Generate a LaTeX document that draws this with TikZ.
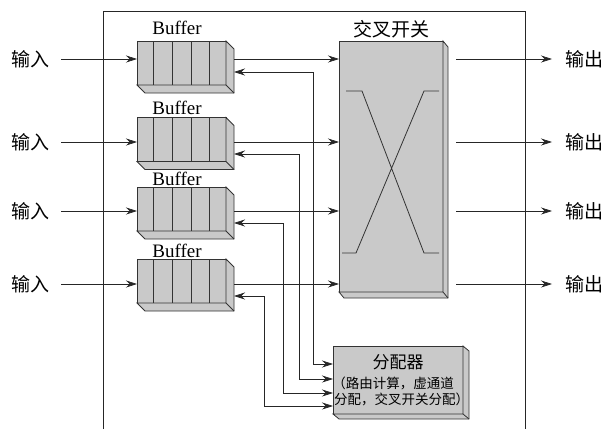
\documentclass[tikz,border=0pt]{standalone}
\usepackage{fontspec}
\setmainfont{Liberation Serif}
\newfontfamily\cjk{Noto Sans CJK SC}
\usetikzlibrary{arrows.meta, positioning}

\newcommand{\boxdepth}[3]{
	\draw[boxface]
	(#1.north east) -- ++(#2,#3) -- ([shift={(#2,#3)}]#1.south east)
	-- ([shift={(#2,#3)}]#1.south west) -- (#1.south west) -- (#1.south east) -- cycle;
	\draw[boxface] (#1.south east) -- ++(#2,#3);
}

\tikzset{
	boxface/.style={draw=black!80, fill=black!21, line width=0.8pt},
	buffer/.style={boxface, anchor=north west, minimum width=89pt, minimum height=44pt,
		inner sep=0pt, outer sep=0pt,
		path picture={\foreach \x in {16.5,35,54,72.5}
			\draw[black!80, line width=0.8pt]
			([xshift=\x pt]path picture bounding box.north west)
			-- ([xshift=\x pt]path picture bounding box.south west);}},
	buftext/.style={inner sep=0pt, xshift=-4.5pt, font=\fontsize{19}{20}\selectfont},
	cjktext/.style={inner sep=0pt, outer sep=0pt, font=\cjk\fontsize{19}{20}\selectfont},
	wire/.style={black!85, line width=0.7pt, >={Stealth[length=11pt, width=7pt]}}
}

\begin{document}
\begin{tikzpicture}[x=1pt, y=-1pt]

	\useasboundingbox (0,0) rectangle (605,429);

	% frame, open at the bottom
	\draw[black!85, line width=0.8pt] (103,429) -- (103,11) -- (525,11) -- (525,429);

	% buffers
	\node[buffer] (buf0) at (137,41) {};
	\node[buffer] (buf1) at (137,117.5) {};
	\node[buffer] (buf2) at (137,187) {};
	\node[buffer] (buf3) at (137,259) {};
	\boxdepth{buf0}{8}{8}
	\boxdepth{buf1}{8}{8}
	\boxdepth{buf2}{8}{8}
	\boxdepth{buf3}{8}{8}

	\node[buftext, above=6.5pt of buf0] (bt0) {Buffer};
	\node[buftext, above=2.5pt of buf1] (bt1) {Buffer};
	\node[buftext, above=1.5pt of buf2] (bt2) {Buffer};
	\node[buftext, above=1.5pt of buf3] (bt3) {Buffer};

	% crossbar
	\node[boxface, anchor=north west, minimum width=104pt, minimum height=251pt,
		inner sep=0pt, outer sep=0pt] (xbar) at (339,41) {};
	\boxdepth{xbar}{5}{6}
	\node[cjktext, above=3pt of xbar] (xt) {交叉开关};
	\draw[black!80, line width=0.8pt]
	(346,91) -- (362,91) -- (424,253) -- (439,253)
	(439,91) -- (424,91) -- (356,253) -- (342,253);

	% allocator
	\node[boxface, anchor=north west, minimum width=130pt, minimum height=68pt,
		inner sep=0pt, outer sep=0pt, align=center, font=\cjk\fontsize{13.5}{16}\selectfont] (alloc) at (333,346)
		{{\fontsize{17}{24}\selectfont 分配器}\\[4pt]
		\makebox[100pt]{\hspace*{-10pt}（路由计算，虚通道}\\
		\makebox[100pt]{\hspace*{7pt}分配，交叉开关分配）}};
	\boxdepth{alloc}{6}{5}

	% inputs and outputs
	\node[cjktext, minimum width=60pt] (in0) at (31,59) {输入};
	\node[cjktext, minimum width=60pt] (in1) at (31,142) {输入};
	\node[cjktext, minimum width=60pt] (in2) at (31,211) {输入};
	\node[cjktext, minimum width=60pt] (in3) at (31,284) {输入};
	\node[cjktext, minimum width=64pt] (out0) at (584,59) {输出};
	\node[cjktext, minimum width=64pt] (out1) at (584,142) {输出};
	\node[cjktext, minimum width=64pt] (out2) at (584,211) {输出};
	\node[cjktext, minimum width=64pt] (out3) at (584,284) {输出};

	\coordinate (bo0) at (234,59);
	\coordinate (bo1) at (234,142);
	\coordinate (bo2) at (234,211);
	\coordinate (bo3) at (234,284);
	\coordinate (xo0) at (456,59);
	\coordinate (xo1) at (456,142);
	\coordinate (xo2) at (456,211);
	\coordinate (xo3) at (456,284);

	\path[wire, ->]
	(in0) edge (in0 -| buf0.west)
	(in1) edge (in1 -| buf1.west)
	(in2) edge (in2 -| buf2.west)
	(in3) edge (in3 -| buf3.west)
	(bo0) edge (bo0 -| xbar.west)
	(bo1) edge (bo1 -| xbar.west)
	(bo2) edge (bo2 -| xbar.west)
	(bo3) edge (bo3 -| xbar.west)
	(xo0) edge (out0.west)
	(xo1) edge (out1.west)
	(xo2) edge (out2.west)
	(xo3) edge (out3.west);

	% control lines between buffers and allocator
	\coordinate (bi0) at (234,72);
	\coordinate (bi1) at (234,154);
	\coordinate (bi2) at (234,223);
	\coordinate (bi3) at (234,296);
	\coordinate (ai0) at (333,364);
	\coordinate (ai1) at (333,379);
	\coordinate (ai2) at (333,393);
	\coordinate (ai3) at (333,406);

	\draw[wire, <->] (bi0) -- (313,72) |- (ai0);
	\draw[wire, <->] (bi1) -- (299,154) |- (ai1);
	\draw[wire, <->] (bi2) -- (283,223) |- (ai2);
	\draw[wire, <->] (bi3) -- (264,296) |- (ai3);

\end{tikzpicture}
\end{document}
